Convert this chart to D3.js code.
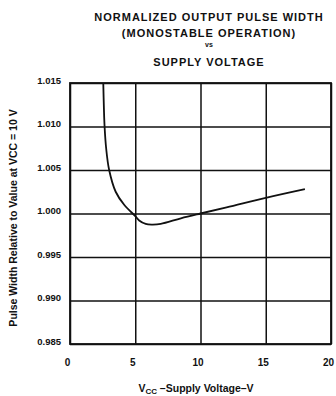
<!DOCTYPE html>
<html>
<head>
<meta charset="utf-8">
<script src="https://cdn.jsdelivr.net/npm/d3@7/dist/d3.min.js"></script>
<style>
  html, body { margin: 0; padding: 0; background: #fff; }
  svg { display: block; }
  text { font-family: "Liberation Sans", Arial, sans-serif; font-weight: bold; fill: #111; }
</style>
</head>
<body>
<div id="chart"></div>
<script>
// Normalized output pulse width of the monostable vs. supply voltage
const supplyVoltage = [2.55, 2.6, 2.65, 2.77, 3.0, 3.5, 4.15, 5.0, 5.3, 5.8, 6.3, 6.95, 8.5, 10, 12, 15, 18];
const pulseWidth = [1.015, 1.012, 1.010, 1.0075, 1.005, 1.0025, 1.001, 0.9997, 0.9992, 0.9988, 0.99873, 0.9988, 0.99945, 1.0, 1.0007, 1.0018, 1.0028];

const xTicks = [0, 5, 10, 15, 20];
const yTicks = [0.985, 0.990, 0.995, 1.000, 1.005, 1.010, 1.015];
const yTickLabels = ["0.985", "0.990", "0.995", "1.000", "1.005", "1.010", "1.015"];
const titleLines = ["NORMALIZED OUTPUT PULSE WIDTH", "(MONOSTABLE OPERATION)", "vs", "SUPPLY VOLTAGE"];

const W = 336, H = 396;
const plot = { left: 70, right: 331, top: 83, bottom: 344 };

const svg = d3.select("#chart").append("svg")
  .attr("width", W).attr("height", H);

const x = d3.scaleLinear().domain([0, 20]).range([plot.left, plot.right]);
const y = d3.scaleLinear().domain([0.985, 1.015]).range([plot.bottom, plot.top]);

// Title block
const titleY = [21, 37, 47, 66];
svg.append("g").selectAll("text").data(titleLines).join("text")
  .attr("x", 209).attr("y", (d, i) => titleY[i])
  .attr("text-anchor", "middle")
  .style("font-size", (d, i) => i === 2 ? "7px" : "11px")
  .style("letter-spacing", (d, i) => i === 2 ? "0px" : "1px")
  .text(d => d);

// Horizontal grid + y tick labels
const yAxis = d3.axisLeft(y).tickValues(yTicks)
  .tickSize(-(plot.right - plot.left))
  .tickPadding(9)
  .tickFormat((d, i) => yTickLabels[i]);
const gy = svg.append("g").attr("transform", `translate(${plot.left},0)`).call(yAxis);
gy.select(".domain").remove();
gy.selectAll(".tick line").attr("stroke", "#111").attr("stroke-width", 1.5);
gy.selectAll(".tick text").style("font-size", "9.5px").attr("dy", "0.05em");

// Vertical grid + x tick labels
const xAxis = d3.axisBottom(x).tickValues(xTicks)
  .tickSize(-(plot.bottom - plot.top))
  .tickPadding(15)
  .tickFormat(d3.format("d"));
const gx = svg.append("g").attr("transform", `translate(0,${plot.bottom})`).call(xAxis);
gx.select(".domain").remove();
gx.selectAll(".tick line").attr("stroke", "#111").attr("stroke-width", 1.5);
gx.selectAll(".tick text").style("font-size", "10px").attr("dx", "-0.3em");

// Plot frame
svg.append("rect")
  .attr("x", plot.left).attr("y", plot.top)
  .attr("width", plot.right - plot.left).attr("height", plot.bottom - plot.top)
  .attr("fill", "none").attr("stroke", "#111").attr("stroke-width", 1.8);

// Curve
const pts = supplyVoltage.map((v, i) => [v, pulseWidth[i]]);
const line = d3.line()
  .x(d => x(d[0])).y(d => y(d[1]))
  .curve(d3.curveCatmullRom.alpha(0.5));
svg.append("path").datum(pts)
  .attr("d", line)
  .attr("fill", "none").attr("stroke", "#111").attr("stroke-width", 1.8);

// Axis titles
const xl = svg.append("text")
  .attr("x", 196).attr("y", 392)
  .attr("text-anchor", "middle")
  .style("font-size", "10.5px");
xl.append("tspan").text("V");
xl.append("tspan").attr("dy", 2).style("font-size", "8px").text("CC");
xl.append("tspan").attr("dy", -2).text(" \u2013Supply Voltage\u2013V");

svg.append("text")
  .attr("transform", "translate(17,218) rotate(-90)")
  .attr("text-anchor", "middle")
  .style("font-size", "10.5px")
  .text("Pulse Width Relative to Value at VCC = 10 V");
</script>
</body>
</html>
